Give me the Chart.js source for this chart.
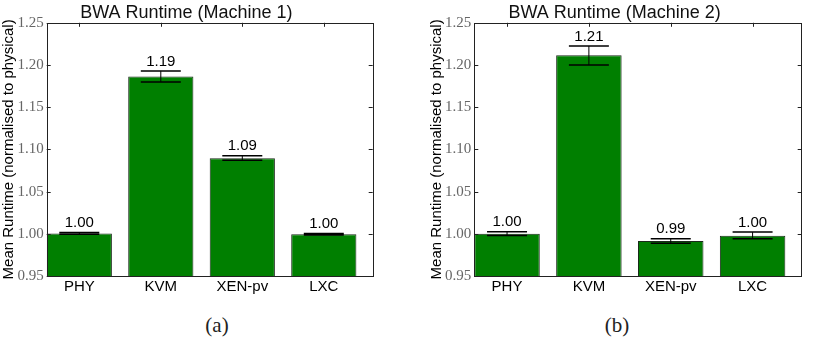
<!DOCTYPE html>
<html>
<head>
<meta charset="utf-8">
<script src="https://cdn.jsdelivr.net/npm/chart.js@4"></script>
<style>
  body { margin: 0; background: #fff; width: 819px; height: 344px; position: relative; overflow: hidden; }
  .box { position: absolute; top: 0; height: 300px; }
  .cap { position: absolute; top: 313px; font: 21px "Liberation Serif", serif; color: #222; transform: translateX(-50%); }
</style>
</head>
<body>
<div class="box" style="left:0;width:410px"><canvas id="m1"></canvas></div>
<div class="box" style="left:410px;width:409px"><canvas id="m2"></canvas></div>
<div class="cap" style="left:217px">(a)</div>
<div class="cap" style="left:617px">(b)</div>
<script>
const labels = ['PHY', 'KVM', 'XEN-pv', 'LXC'];

// machine 1
const m1Mean = [1.0005, 1.1865, 1.0895, 0.9995];
const m1Low  = [0.9995, 1.180, 1.087, 0.9985];
const m1High = [1.0015, 1.193, 1.0925, 1.0005];
const m1Text = ['1.00', '1.19', '1.09', '1.00'];

// machine 2
const m2Mean = [1.000, 1.2115, 0.9915, 0.9977];
const m2Low  = [0.998, 1.200, 0.9887, 0.9942];
const m2High = [1.0025, 1.2225, 0.9942, 1.0021];
const m2Text = ['1.00', '1.21', '0.99', '1.00'];

const yTicks = [0.95, 1.00, 1.05, 1.10, 1.15, 1.20, 1.25];

// error bars, value labels, frame and inward ticks (matplotlib look)
const extras = {
  id: 'extras',
  afterDatasetsDraw(chart, args, opts) {
    const ctx = chart.ctx;
    const a = chart.chartArea;
    const y = chart.scales.y;
    const meta = chart.getDatasetMeta(0);
    ctx.save();
    ctx.strokeStyle = '#000';
    meta.data.forEach((bar, i) => {
      const yl = y.getPixelForValue(opts.low[i]);
      const yh = y.getPixelForValue(opts.high[i]);
      ctx.lineWidth = 1;
      ctx.beginPath();
      ctx.moveTo(bar.x, yl); ctx.lineTo(bar.x, yh);
      ctx.stroke();
      ctx.lineWidth = 1.5;
      ctx.beginPath();
      ctx.moveTo(bar.x - 20, yl); ctx.lineTo(bar.x + 20, yl);
      ctx.moveTo(bar.x - 20, yh); ctx.lineTo(bar.x + 20, yh);
      ctx.stroke();
      ctx.fillStyle = '#000';
      ctx.font = '15px "Liberation Sans", Arial, sans-serif';
      ctx.textAlign = 'center';
      ctx.textBaseline = 'bottom';
      ctx.fillText(opts.text[i], bar.x, yh - 2);
    });
    // frame
    ctx.lineWidth = 1;
    ctx.strokeStyle = '#222';
    ctx.strokeRect(Math.round(a.left) + 0.5, Math.round(a.top) + 0.5,
                   Math.round(a.right - a.left), Math.round(a.bottom - a.top));
    // inward ticks
    ctx.beginPath();
    yTicks.forEach(v => {
      const py = Math.round(y.getPixelForValue(v)) + 0.5;
      ctx.moveTo(a.left, py); ctx.lineTo(a.left + 4, py);
      ctx.moveTo(a.right, py); ctx.lineTo(a.right - 4, py);
    });
    meta.data.forEach(bar => {
      const px = Math.round(bar.x) + 0.5;
      ctx.moveTo(px, a.top); ctx.lineTo(px, a.top + 4);
    });
    ctx.stroke();
    ctx.restore();
  }
};

function makeChart(id, title, mean, low, high, text, padLeft, padRight) {
  new Chart(document.getElementById(id), {
    type: 'bar',
    data: {
      datasets: [{
        data: mean.map((v, i) => ({ x: i + 0.4, y: v })),
        backgroundColor: '#007f00',
        borderColor: '#1a2a1a',
        borderWidth: 1,
        categoryPercentage: 0.8,
        barPercentage: 1.0
      }]
    },
    plugins: [extras],
    options: {
      responsive: true,
      maintainAspectRatio: false,
      animation: false,
      layout: { padding: { left: padLeft, right: padRight, top: 0, bottom: 0 } },
      plugins: {
        legend: { display: false },
        tooltip: { enabled: false },
        title: {
          display: true,
          text: title,
          color: '#111',
          font: { family: '"Liberation Sans", Arial, sans-serif', size: 18, weight: 'normal', lineHeight: 1.1 },
          padding: { top: 3, bottom: 0 }
        },
        extras: { low: low, high: high, text: text }
      },
      scales: {
        x: {
          type: 'linear',
          min: 0,
          max: 4,
          offset: false,
          grid: { display: false, drawTicks: false, offset: false },
          border: { display: false },
          afterBuildTicks: s => { s.ticks = labels.map((l, i) => ({ value: i + 0.4 })); },
          afterFit: s => { s.height = 24; },
          ticks: {
            color: '#000',
            padding: 2,
            font: { family: '"Liberation Sans", Arial, sans-serif', size: 15 },
            callback: v => labels[Math.round(v - 0.4)]
          }
        },
        y: {
          min: 0.95,
          max: 1.25,
          grid: { display: false, drawTicks: false },
          border: { display: false },
          afterBuildTicks: s => { s.ticks = yTicks.map(v => ({ value: v })); },
          afterFit: s => { s.width = 46.7; },
          ticks: {
            color: '#666',
            padding: 3,
            font: { family: '"Liberation Serif", serif', size: 15 },
            callback: v => v.toFixed(2)
          },
          title: {
            display: true,
            text: 'Mean Runtime (normalised to physical)',
            color: '#000',
            padding: 0,
            font: { family: '"Liberation Sans", Arial, sans-serif', size: 15 }
          }
        }
      }
    }
  });
}

makeChart('m1', 'BWA Runtime (Machine 1)', m1Mean, m1Low, m1High, m1Text, 0, 37.3);
makeChart('m2', 'BWA Runtime (Machine 2)', m2Mean, m2Low, m2High, m2Text, 17.6, 17.3);
</script>
</body>
</html>
